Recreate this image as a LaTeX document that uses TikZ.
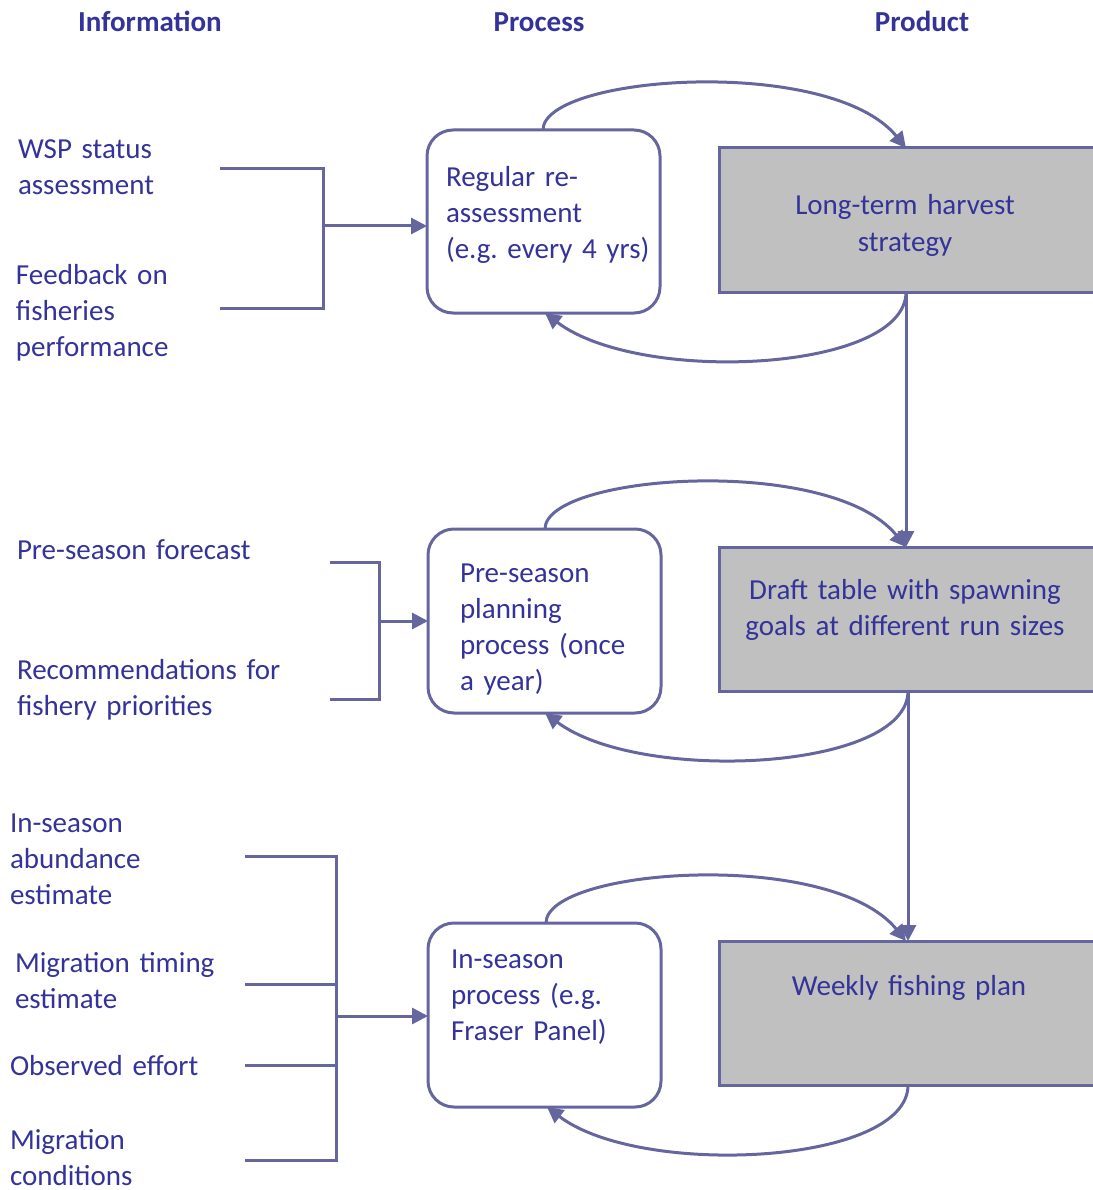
\documentclass[tikz,border=0pt]{standalone}
\usepackage{fontspec}
\setmainfont{Carlito}
\frenchspacing
\usetikzlibrary{arrows.meta}
\definecolor{txt}{HTML}{333399}
\definecolor{ln}{HTML}{66669F}
\definecolor{gr}{HTML}{C0C0C0}
\begin{document}
\begin{tikzpicture}[x=1pt,y=-1pt,
  every node/.style={inner sep=0pt,outer sep=0pt},
  lbl/.style={text=txt,font=\fontsize{29}{36}\selectfont,align=left,text width=330pt,anchor=base west},
  ctr/.style={text=txt,font=\fontsize{29}{36}\selectfont,align=center,text width=380pt,anchor=base},
  hdr/.style={text=txt,font=\fontsize{29}{36}\selectfont\bfseries,anchor=base},
  procbox/.style={draw=ln,line width=3pt,rounded corners=26pt,fill=white},
  prodbox/.style={draw=ln,line width=3pt,fill=gr},
  conn/.style={draw=ln,line width=3pt},
  arr/.style={conn,-{Triangle[length=16pt,width=16pt]}}]
\useasboundingbox (0,0) rectangle (1092,1190);

% headers
\node[hdr] (h1) at (150,32) {Information};
\node[hdr] (h2) at (539,32) {Process};
\node[hdr] (h3) at (922,32) {Product};

% boxes
\node[procbox,minimum width=233pt,minimum height=183pt,anchor=north west] (p1) at (427,130) {};
\node[procbox,minimum width=233pt,minimum height=184pt,anchor=north west] (p2) at (428,529) {};
\node[procbox,minimum width=233pt,minimum height=184pt,anchor=north west] (p3) at (428,923) {};
\node[prodbox,minimum width=390pt,minimum height=144pt,anchor=north west] (q1) at (719,148) {};
\node[prodbox,minimum width=390pt,minimum height=144pt,anchor=north west] (q2) at (719,547) {};
\node[prodbox,minimum width=390pt,minimum height=144pt,anchor=north west] (q3) at (719,941) {};

% box texts
\node[lbl] (p1t) at (446,187) {Regular re-\\assessment\\(e.g. every 4 yrs)};
\node[lbl] (p2t) at (460,582) {Pre-season\\planning\\process (once\\a year)};
\node[lbl] (p3t) at (451,968) {In-season\\process (e.g.\\Fraser Panel)};
\node[ctr] (q1t) at (905,215) {Long-term harvest\\strategy};
\node[ctr] (q2t) at (905,599) {Draft table with spawning\\goals at different run sizes};
\node[ctr] (q3t) at (909,995) {Weekly fishing plan};

% information texts
\node[lbl] (i1) at (18,159) {WSP status\\assessment};
\node[lbl] (i2) at (16,284) {Feedback on\\fisheries\\performance};
\node[lbl] (i3) at (17,559) {Pre-season forecast};
\node[lbl] (i4) at (17,679) {Recommendations for\\fishery priorities};
\node[lbl] (i5) at (10,832) {In-season\\abundance\\estimate};
\node[lbl] (i6) at (15,972) {Migration timing\\estimate};
\node[lbl] (i7) at (10,1075) {Observed effort};
\node[lbl] (i8) at (10,1149) {Migration\\conditions};

% bracket coordinates
\coordinate (a1) at (220,169); \coordinate (a2) at (220,308);
\coordinate (b1) at (330,562); \coordinate (b2) at (330,699);
\coordinate (c1) at (245,856); \coordinate (c2) at (245,984);
\coordinate (c3) at (245,1065); \coordinate (c4) at (245,1160);

% bracket 1
\draw[conn] (a1) -| (323,308) -- (a2);
\draw[arr] (323,226) -- (p1.west |- 0,226);
% bracket 2
\draw[conn] (b1) -| (379,699) -- (b2);
\draw[arr] (379,621) -- (p2.west |- 0,621);
% bracket 3
\draw[conn] (c1) -| (336,1160) -- (c4);
\draw[conn] (c2) -- (336,984);
\draw[conn] (c3) -- (336,1065);
\draw[arr] (336,1016) -- (p3.west |- 0,1016);

% vertical product arrows
\draw[arr] (q1.south -| 906,0) -- (q2.north -| 906,0);
\draw[arr] (q2.south -| 908,0) -- (q3.north -| 908,0);

% loops row 1
\draw[arr] (p1.north -| 543,0) .. controls (543,75) and (830,55) .. (q1.north -| 906,0);
\draw[arr] (q1.south -| 906,0) .. controls (906,372) and (640,385) .. (p1.south -| 545,0);
% loops row 2
\draw[arr] (p2.north -| 545,0) .. controls (545,474) and (830,454) .. (q2.north -| 906,0);
\draw[arr] (q2.south -| 908,0) .. controls (908,771) and (640,784) .. (p2.south -| 545,0);
% loops row 3
\draw[arr] (p3.north -| 546,0) .. controls (546,868) and (830,848) .. (q3.north -| 906,0);
\draw[arr] (q3.south -| 908,0) .. controls (908,1165) and (640,1178) .. (p3.south -| 547,0);
\end{tikzpicture}
\end{document}
